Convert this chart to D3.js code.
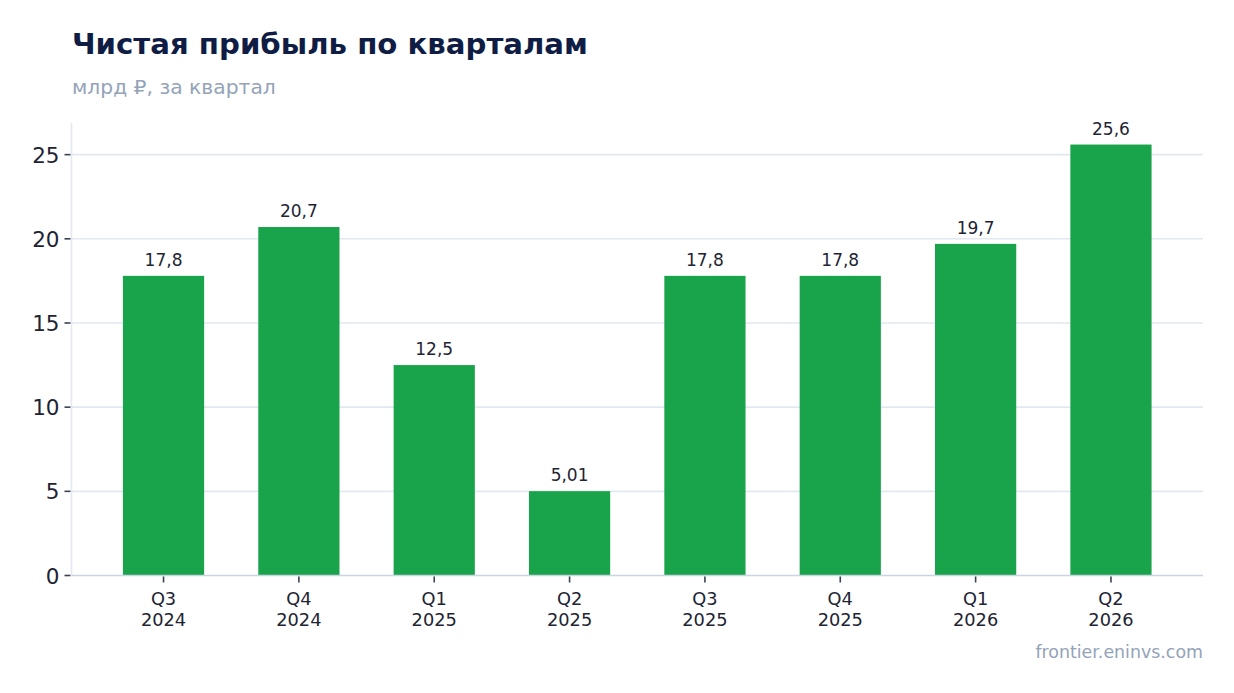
<!DOCTYPE html>
<html><head><meta charset="utf-8">
<script src="https://cdn.jsdelivr.net/npm/d3@7"></script>
<style>html,body{margin:0;padding:0;background:#fff;}svg{display:block;font-family:"DejaVu Sans",sans-serif;}</style>
</head><body>
<svg id="c" width="1234" height="693"></svg>
<script>
const quarters = ["Q3","Q4","Q1","Q2","Q3","Q4","Q1","Q2"];
const years = ["2024","2024","2025","2025","2025","2025","2026","2026"];
const values = [17.8, 20.7, 12.5, 5.01, 17.8, 17.8, 19.7, 25.6];
const valueLabels = ["17,8","20,7","12,5","5,01","17,8","17,8","19,7","25,6"];
const yTicks = [0,5,10,15,20,25];

const svg = d3.select("#c");
const L = 71.5, R = 1203, T = 123, B = 575.5;
const idx = values.map((d,i)=>i);
const x = d3.scaleLinear().domain([-0.68, 7.68]).range([L, R]);
const y = d3.scaleLinear().domain([0, 25.6*1.05]).range([B, T]);
const bw = x(0.6) - x(0);

svg.append("text").attr("x",72).attr("y",54).attr("font-size",29.2).attr("font-weight","bold")
  .attr("fill","#0f1d45").text("Чистая прибыль по кварталам");
svg.append("text").attr("x",72).attr("y",94).attr("font-size",20.3)
  .attr("fill","#94a3b8").text("млрд ₽, за квартал");

// grid
svg.append("g").selectAll("line").data(yTicks.filter(d=>d>0)).join("line")
  .attr("x1",L).attr("x2",R).attr("y1",d=>y(d)).attr("y2",d=>y(d))
  .attr("stroke","#e2e8f0").attr("stroke-width",1.6);

// bars
svg.append("g").selectAll("rect").data(idx).join("rect")
  .attr("x",i=>x(i)-bw/2).attr("width",bw)
  .attr("y",i=>y(values[i])).attr("height",i=>B-y(values[i]))
  .attr("fill","#19a34a");

// value labels
svg.append("g").selectAll("text").data(idx).join("text")
  .attr("x",i=>x(i)).attr("y",i=>y(values[i])-10)
  .attr("text-anchor","middle").attr("font-size",17).attr("fill","#1e2433")
  .text(i=>valueLabels[i]);

// spines
svg.append("line").attr("x1",L).attr("x2",L).attr("y1",T).attr("y2",B).attr("stroke","#e2e8f0").attr("stroke-width",1.6);
svg.append("line").attr("x1",L).attr("x2",R).attr("y1",B).attr("y2",B).attr("stroke","#cbd5e1").attr("stroke-width",1.6);

// y axis ticks
const yg = svg.append("g");
yg.selectAll("line").data(yTicks).join("line")
  .attr("x1",L-7).attr("x2",L-1).attr("y1",d=>y(d)).attr("y2",d=>y(d))
  .attr("stroke","#3b4252").attr("stroke-width",1.6);
yg.selectAll("text").data(yTicks).join("text")
  .attr("x",L-12).attr("y",d=>y(d)+8).attr("text-anchor","end")
  .attr("font-size",21.5).attr("fill","#1e2433").text(d=>d);

// x axis
const xg = svg.append("g");
xg.selectAll("line").data(idx).join("line")
  .attr("x1",i=>x(i)).attr("x2",i=>x(i)).attr("y1",B+1).attr("y2",B+7)
  .attr("stroke","#3b4252").attr("stroke-width",1.6);
const xt = xg.selectAll("text").data(idx).join("text")
  .attr("text-anchor","middle").attr("font-size",17.8).attr("fill","#1e2433");
xt.append("tspan").attr("x",i=>x(i)).attr("y",605).text(i=>quarters[i]);
xt.append("tspan").attr("x",i=>x(i)).attr("y",625.5).text(i=>years[i]);

svg.append("text").attr("x",1203).attr("y",658).attr("text-anchor","end")
  .attr("font-size",17.4).attr("fill","#94a3b8").text("frontier.eninvs.com");
</script>
</body></html>
